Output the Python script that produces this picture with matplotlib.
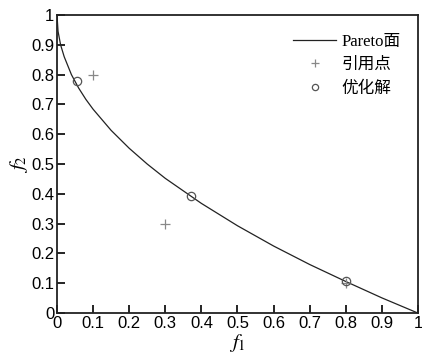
import matplotlib
matplotlib.use("Agg")
import matplotlib.pyplot as plt

# Pareto front
pareto_f1 = [0, 0.003, 0.01, 0.02, 0.04, 0.06, 0.08, 0.1, 0.15, 0.2, 0.25, 0.3,
             0.4, 0.5, 0.6, 0.7, 0.8, 0.9, 1.0]
pareto_f2 = [1.0, 0.945, 0.90, 0.86, 0.80, 0.755, 0.717, 0.684, 0.613, 0.553, 0.50,
             0.452, 0.368, 0.293, 0.225, 0.163, 0.106, 0.051, 0.0]

ref_f1 = [0.1, 0.3, 0.8]
ref_f2 = [0.8, 0.3, 0.1]

opt_f1 = [0.055, 0.37, 0.80]
opt_f2 = [0.78, 0.393, 0.106]

xticks = [0, 0.1, 0.2, 0.3, 0.4, 0.5, 0.6, 0.7, 0.8, 0.9, 1]
xticklabels = ["0", "0.1", "0.2", "0.3", "0.4", "0.5", "0.6", "0.7", "0.8", "0.9", "1"]

plt.rcParams['font.family'] = ['Liberation Sans', 'DejaVu Sans']
plt.rcParams['mathtext.fontset'] = 'stix'

fig = plt.figure(figsize=(4.22, 3.57), dpi=100)
ax = fig.add_axes([0.135, 0.123, 0.8555, 0.835])

ax.plot(pareto_f1, pareto_f2, color='#222222', lw=0.9, label='Pareto面')
ax.plot(ref_f1, ref_f2, ls='none', marker='+', ms=7, mew=0.9, color='#888888', label='引用点')
ax.plot(opt_f1, opt_f2, ls='none', marker='o', ms=6, mfc='none', mew=0.9, color='#555555', label='优化解')

ax.set_xlim(0, 1)
ax.set_ylim(0, 1)
ax.set_xticks(xticks)
ax.set_xticklabels(xticklabels)
ax.set_yticks(xticks)
ax.set_yticklabels(xticklabels)
ax.tick_params(direction='in', length=6, width=1.2, labelsize=12, top=False, right=False, pad=2)
for s in ax.spines.values():
    s.set_linewidth(1.3)
    s.set_color('#222222')

ax.set_xlabel(r'$f_1$', fontsize=15, labelpad=1)
ax.set_ylabel(r'$f_2$', fontsize=15, labelpad=1)

leg = ax.legend(loc='upper right', bbox_to_anchor=(0.97, 0.96), frameon=False,
                handlelength=2.6, handletextpad=0.3, markerscale=0.75,
                labelspacing=0.45, borderaxespad=0.0,
                prop={'family': ['Liberation Serif', 'Noto Sans CJK SC'], 'size': 12})

fig.savefig('out.png', dpi=100)
